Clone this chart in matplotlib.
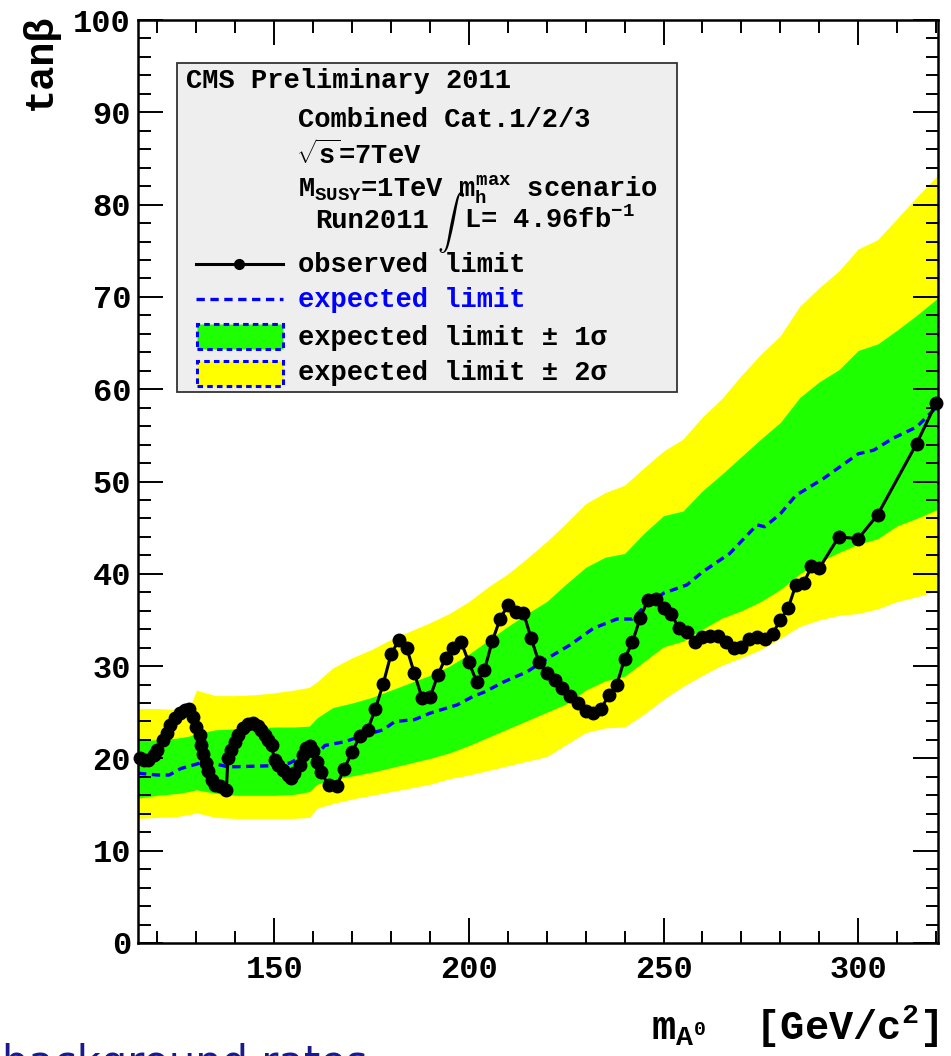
#!/usr/bin/env python3
"""
CMS MSSM tan(beta) exclusion limit, combined categories 1/2/3
"""
import matplotlib
matplotlib.use('Agg')
import matplotlib.pyplot as plt
from matplotlib.patches import Rectangle
from matplotlib.lines import Line2D
from matplotlib.ticker import MultipleLocator

# observed limit (mA [GeV], tan beta)
obs_mass = [115.5, 116.5, 117.5, 119, 120, 121.5, 122.5, 123.2, 124.5, 125.8,
            127, 128, 129.2, 130, 130.9, 131.3, 131.7, 132.4, 133, 133.9,
            134.7, 136, 137.7, 138.1, 139, 139.9, 140.7, 142, 143.3, 144.6,
            145.8, 146.7, 147.5, 148.4, 149.3, 150.1, 151, 152.2, 153.5, 154.4,
            155.2, 156.5, 157.4, 158.2, 159.1, 159.9, 161, 162, 164, 166,
            168, 170, 172, 174, 176, 178, 180, 182, 184, 186,
            188, 190, 192, 194, 196, 198, 200, 202, 204, 206,
            208, 210, 212, 214, 216, 218, 220, 222, 224, 226,
            228, 230, 232, 234, 236, 238, 240, 242, 244, 246,
            248, 250, 252, 254, 256, 258, 260, 262, 264, 266,
            268, 270, 272, 274, 276, 278, 280, 282, 284, 286,
            288, 290, 295, 300, 305, 315, 320]
obs_limit = [20.0, 19.8, 19.8, 20.4, 20.9, 22.0, 22.7, 23.6, 24.4, 24.9,
             25.2, 25.4, 24.5, 23.4, 22.5, 21.5, 20.5, 19.5, 18.6, 17.7,
             17.1, 17.0, 16.6, 20.0, 20.9, 21.8, 22.5, 23.3, 23.7, 23.8,
             23.5, 23.1, 22.5, 22.0, 21.4, 19.8, 19.3, 18.7, 18.2, 17.9,
             18.4, 19.3, 20.4, 21.1, 21.3, 20.8, 19.6, 18.5, 17.1, 17.0,
             18.9, 20.7, 22.4, 23.1, 25.4, 28.1, 31.3, 32.8, 32.0, 29.2,
             26.5, 26.6, 29.0, 30.9, 32.0, 32.6, 30.4, 28.3, 29.6, 32.7,
             35.1, 36.6, 35.9, 35.8, 33.0, 30.4, 29.2, 28.5, 27.6, 26.8,
             26.0, 25.1, 24.9, 25.4, 26.9, 28.0, 30.8, 32.6, 35.2, 37.2,
             37.3, 36.3, 35.6, 34.1, 33.7, 32.6, 33.1, 33.3, 33.3, 32.6,
             32.0, 32.1, 32.9, 33.1, 32.9, 33.5, 35.0, 36.3, 38.8, 39.0,
             40.8, 40.6, 44.0, 43.8, 46.4, 54.1, 58.5]

# expected limit
exp_mass = [115, 120, 123, 126, 131, 134, 138, 140, 149, 154, 158, 160, 163,
            168, 173, 178, 181, 186, 190, 197, 201, 204, 209, 215, 220, 226,
            232, 238, 242, 245, 250, 256, 260, 267, 274, 276, 280, 284, 291,
            296, 300, 304, 309, 315, 320]
exp_limit = [18.4, 18.2, 18.2, 18.9, 19.5, 19.5, 19.1, 19.1, 19.2, 19.5, 20.4,
             20.0, 21.4, 21.8, 22.5, 23.1, 24.0, 24.2, 24.9, 25.8, 26.7, 27.2,
             28.3, 29.4, 30.8, 32.3, 34.1, 35.1, 35.1, 36.4, 37.9, 38.8, 40.2,
             42.2, 45.3, 45.1, 46.5, 48.5, 50.3, 51.8, 53.0, 53.4, 54.7, 55.9,
             58.0]

# +-1 sigma / +-2 sigma bands
band_mass = [115, 120, 125, 128, 130, 135, 140, 145, 150, 155, 159, 161, 165,
             170, 175, 180, 185, 190, 195, 200, 205, 210, 215, 220, 225, 230,
             235, 240, 245, 250, 255, 260, 265, 270, 275, 280, 285, 290, 295,
             300, 305, 310, 315, 320.5]
sig1_lo = [15.7, 16.0, 16.2, 16.4, 16.6, 16.2, 16.0, 16.0, 16.0, 16.1, 16.4,
           17.2, 17.7, 18.1, 18.5, 19.0, 19.5, 20.0, 20.6, 21.4, 22.3, 23.2,
           24.1, 25.0, 25.9, 27.4, 28.4, 28.9, 30.5, 32.1, 32.7, 34.0, 35.2,
           36.0, 37.0, 38.3, 40.0, 41.3, 42.3, 43.2, 43.8, 45.2, 46.0, 47.0]
sig1_hi = [22.0, 22.0, 22.2, 22.4, 22.7, 23.1, 23.2, 23.3, 23.4, 23.4, 23.5,
           24.4, 25.5, 26.0, 26.6, 27.4, 28.2, 29.0, 30.0, 31.3, 32.8, 34.3,
           35.7, 37.0, 38.9, 40.7, 41.8, 42.2, 44.4, 46.3, 46.8, 49.0, 50.8,
           52.7, 54.6, 56.4, 59.1, 60.8, 62.1, 64.2, 64.9, 66.4, 68.0, 69.9]
sig2_lo = [13.5, 13.6, 13.7, 13.9, 14.1, 13.6, 13.5, 13.5, 13.5, 13.5, 13.6,
           14.6, 15.1, 15.6, 16.0, 16.4, 16.8, 17.2, 17.8, 18.2, 18.7, 19.2,
           19.7, 20.2, 21.5, 22.8, 23.3, 23.4, 24.8, 26.4, 27.8, 29.0, 30.1,
           30.9, 31.8, 33.0, 34.3, 35.0, 35.5, 35.7, 36.2, 37.0, 37.5, 38.2]
sig2_hi = [25.4, 25.4, 25.3, 25.2, 27.4, 26.8, 26.8, 26.9, 27.1, 27.4, 27.7,
           28.3, 29.8, 30.9, 31.8, 32.9, 33.8, 34.7, 35.7, 37.0, 38.6, 40.0,
           41.7, 43.5, 45.5, 47.6, 48.8, 49.6, 51.5, 53.3, 54.6, 57.0, 59.0,
           61.5, 63.8, 65.8, 69.0, 71.0, 72.8, 75.2, 76.2, 78.5, 80.8, 83.2]

GREEN = '#1eff00'
YELLOW = '#ffff00'
BLUE = '#0000ff'

plt.rcParams.update({
    'font.family': ['Liberation Mono', 'DejaVu Sans'],
    'font.weight': 'bold',
    'mathtext.fontset': 'custom',
    'mathtext.rm': 'Liberation Mono:bold',
    'mathtext.it': 'Liberation Mono:bold',
    'mathtext.bf': 'Liberation Mono:bold',
    'lines.scale_dashes': False,
})

W, H = 951, 1056
fig = plt.figure(figsize=(W / 100, H / 100), dpi=100)


def fx(px):
    return px / W


def fy(py):
    return 1 - py / H


ax = fig.add_axes([fx(138), fy(943), 800 / W, 923 / H])

# bands, expected and observed
ax.fill_between(band_mass, sig2_lo, sig2_hi, color=YELLOW, lw=0)
ax.fill_between(band_mass, sig1_lo, sig1_hi, color=GREEN, lw=0)
ax.plot(exp_mass, exp_limit, color=BLUE, lw=2.4, dashes=(6, 4))
ax.plot(obs_mass, obs_limit, color='black', lw=2.2, marker='o', ms=9,
        clip_on=False, zorder=5)

ax.set_xlim(115, 320.5)
ax.set_ylim(0, 100)
ax.set_xticks([150, 200, 250, 300])
ax.xaxis.set_minor_locator(MultipleLocator(10))
ax.yaxis.set_major_locator(MultipleLocator(10))
ax.yaxis.set_minor_locator(MultipleLocator(2))
ax.tick_params(which='both', direction='in', top=True, right=True,
               width=1.4, labelsize=23)
ax.tick_params(which='major', length=18)
ax.tick_params(which='minor', length=9)
ax.tick_params(axis='x', pad=9)
ax.tick_params(axis='y', pad=5)
for s in ax.spines.values():
    s.set_linewidth(1.8)

# axis titles, ROOT style at the ends of the axes
fig.text(fx(40), fy(14), 'tan\u03b2', rotation=90, ha='center', va='top',
         fontsize=29)
fig.text(fx(938), fy(1040), r'$m_{A^{0}}$  [GeV/c$^{2}$]', ha='right',
         va='baseline', fontsize=29)

# legend box
fig.add_artist(Rectangle((fx(177), fy(392)), 500 / W, 329 / H,
                         transform=fig.transFigure, facecolor='#eeeeee',
                         edgecolor='#333333', lw=1.3, zorder=6))
tf = fig.transFigure
fs = 19.5
fig.text(fx(186), fy(88), 'CMS Preliminary 2011', fontsize=fs, zorder=7)
fig.text(fx(298), fy(127), 'Combined Cat.1/2/3', fontsize=fs, zorder=7)
fig.text(fx(296), fy(164), r'$\sqrt{s}$=7TeV', fontsize=fs, zorder=7)
fig.text(fx(298), fy(197), r'$M_{SUSY}$=1TeV $m_{h}^{max}$ scenario',
         fontsize=fs, zorder=7)
fig.text(fx(315), fy(228), 'Run2011', fontsize=fs, zorder=7)
fig.text(fx(451), fy(223), r'$\int$', math_fontfamily='cm', fontsize=20,
         ha='center', va='center', zorder=7)
fig.text(fx(464), fy(228), r'L= 4.96fb$^{-1}$', fontsize=fs, zorder=7)

# legend entries
fig.add_artist(Line2D([fx(196), fx(283)], [fy(264)] * 2, transform=tf,
                      color='black', lw=2.2, zorder=7))
fig.add_artist(Line2D([fx(239)], [fy(264)], transform=tf, color='black',
                      marker='o', ms=7, zorder=7))
fig.add_artist(Line2D([fx(196), fx(283)], [fy(299)] * 2, transform=tf,
                      color=BLUE, lw=2.4, dashes=(6, 4), zorder=7))
fig.add_artist(Rectangle((fx(197), fy(349)), 86 / W, 25 / H, transform=tf,
                         facecolor=GREEN, edgecolor=BLUE, lw=2.2,
                         ls=(0, (4, 3)), zorder=7))
fig.add_artist(Rectangle((fx(197), fy(386)), 86 / W, 25 / H, transform=tf,
                         facecolor=YELLOW, edgecolor=BLUE, lw=2.2,
                         ls=(0, (4, 3)), zorder=7))
fig.text(fx(298), fy(272), 'observed limit', fontsize=fs, zorder=7)
fig.text(fx(298), fy(307), 'expected limit', fontsize=fs, color=BLUE,
         zorder=7)
fig.text(fx(298), fy(345), 'expected limit \u00b1 1\u03c3', fontsize=fs,
         zorder=7)
fig.text(fx(298), fy(380), 'expected limit \u00b1 2\u03c3', fontsize=fs,
         zorder=7)

# slide text cut at the bottom edge
fig.text(fx(2), fy(1076), 'background rates', family='DejaVu Sans',
         weight='normal', fontsize=30, color='#1a1a8c', va='baseline')

fig.savefig('out.png', dpi=100)
